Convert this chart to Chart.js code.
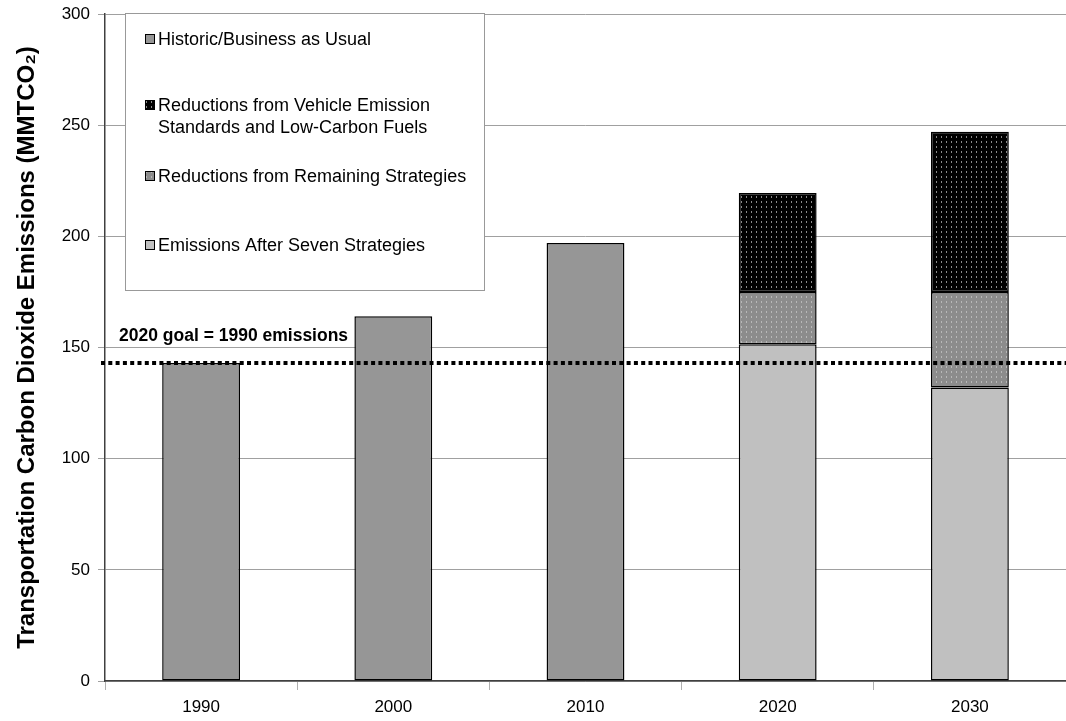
<!DOCTYPE html>
<html>
<head>
<meta charset="utf-8">
<script src="https://cdn.jsdelivr.net/npm/chart.js@4.4.1/dist/chart.umd.min.js"></script>
<style>
  html, body { margin: 0; padding: 0; background: #fff; }
  #wrap { width: 1066px; height: 721px; }
</style>
</head>
<body>
<div id="wrap"><canvas id="myChart" width="1066" height="721"></canvas></div>
<script>
var years = ["1990", "2000", "2010", "2020", "2030"];
var historic = [143, 164, 197, null, null];
var afterStrategies = [null, null, null, 151.5, 132];
var remainingReductions = [null, null, null, 23.5, 43];
var vehicleReductions = [null, null, null, 44.5, 72];
var goalValue = 143;
var goalLabel = "2020 goal = 1990 emissions";
var yTicks = [0, 50, 100, 150, 200, 250, 300];

function makePattern(bg, dot, w, h) {
    var c = document.createElement("canvas");
    c.width = w; c.height = h;
    var g = c.getContext("2d");
    g.fillStyle = bg;
    g.fillRect(0, 0, w, h);
    g.fillStyle = dot;
    g.fillRect(1, 1, 1, 2);
    return document.getElementById("myChart").getContext("2d").createPattern(c, "repeat");
}

var darkFill = makePattern("#000000", "#8a8a8a", 5, 5);
var midFill = makePattern("#8c8c8c", "#b8b8b8", 5, 5);

var FONT = "'Liberation Sans', Arial, sans-serif";

var datasets = [
    { label: "Historic/Business as Usual", data: historic, backgroundColor: "#969696" },
    { label: "Emissions After Seven Strategies", data: afterStrategies, backgroundColor: "#c0c0c0" },
    { label: "Reductions from Remaining Strategies", data: remainingReductions, backgroundColor: midFill },
    { label: "Reductions from Vehicle Emission\nStandards and Low-Carbon Fuels", data: vehicleReductions, backgroundColor: darkFill }
];
datasets.forEach(function (d) {
    d.borderColor = "#000";
    d.borderWidth = 1.5;
    d.borderSkipped = false;
    d.categoryPercentage = 1;
    d.barPercentage = 0.405;
});

// legend order as in the original
var legendOrder = [0, 3, 2, 1];

var goalPlugin = {
    id: "goal",
    afterDatasetsDraw: function (chart) {
        var c = chart.ctx, area = chart.chartArea;
        var y = chart.scales.y.getPixelForValue(goalValue);
        c.save();
        c.strokeStyle = "#000";
        c.lineWidth = 4;
        c.setLineDash([4, 3.3]);
        c.beginPath();
        c.moveTo(area.left - 4, y);
        c.lineTo(area.right, y);
        c.stroke();
        c.setLineDash([]);
        c.fillStyle = "#000";
        c.font = "bold 17.5px " + FONT;
        c.textBaseline = "middle";
        c.fillText(goalLabel, area.left + 14, y - 27);
        c.restore();
    }
};

var boxLegend = {
    id: "boxLegend",
    afterDraw: function (chart) {
        var c = chart.ctx, area = chart.chartArea;
        var x0 = area.left + 20, y0 = area.top - 1, w = 359, h = 277;
        c.save();
        c.fillStyle = "#fff";
        c.fillRect(x0, y0, w, h);
        c.strokeStyle = "#999";
        c.lineWidth = 1;
        c.strokeRect(x0 + 0.5, y0 + 0.5, w, h);
        var rows = [26, 92, 163, 232];
        c.font = "18px " + FONT;
        c.textBaseline = "middle";
        legendOrder.forEach(function (idx, i) {
            var ds = chart.data.datasets[idx];
            var ty = y0 + rows[i];
            c.fillStyle = ds.backgroundColor;
            c.fillRect(x0 + 20, ty - 5, 10, 10);
            c.strokeStyle = "#000";
            c.lineWidth = 1;
            c.strokeRect(x0 + 20.5, ty - 4.5, 9, 9);
            c.fillStyle = "#000";
            ds.label.split("\n").forEach(function (line, k) {
                c.fillText(line, x0 + 33, ty + 1 + k * 22);
            });
        });
        c.restore();
    }
};

var ctx = document.getElementById("myChart");
var myChart = new Chart(ctx, {
    type: "bar",
    data: { labels: years, datasets: datasets },
    options: {
        responsive: false,
        animation: false,
        layout: { padding: { top: 14, right: 0, left: 0, bottom: 0 } },
        plugins: {
            legend: { display: false },
            tooltip: { enabled: false }
        },
        scales: {
            x: {
                stacked: true,
                offset: true,
                grid: { offset: true, drawOnChartArea: false, color: "#b0b0b0", tickLength: 9 },
                border: { color: "#404040", width: 1.5 },
                ticks: { color: "#000", font: { family: FONT, size: 17 }, padding: 7 },
                afterFit: function (s) { s.height = 40; }
            },
            y: {
                stacked: true,
                min: 0,
                max: 300,
                afterBuildTicks: function (s) { s.ticks = yTicks.map(function (v) { return { value: v }; }); },
                grid: { color: "#a0a0a0", tickLength: 7 },
                border: { color: "#404040", width: 1.5 },
                ticks: { color: "#000", font: { family: FONT, size: 17 }, padding: 8 },
                title: {
                    display: true,
                    text: "Transportation Carbon Dioxide Emissions (MMTCO\u2082)",
                    color: "#000",
                    font: { family: FONT, size: 24, weight: "bold" },
                    padding: { top: 13, bottom: 10 }
                },
                afterFit: function (s) { s.width = 105; s.paddingTop = 0; s.paddingBottom = 0; }
            }
        }
    },
    plugins: [goalPlugin, boxLegend]
});
</script>
</body>
</html>
